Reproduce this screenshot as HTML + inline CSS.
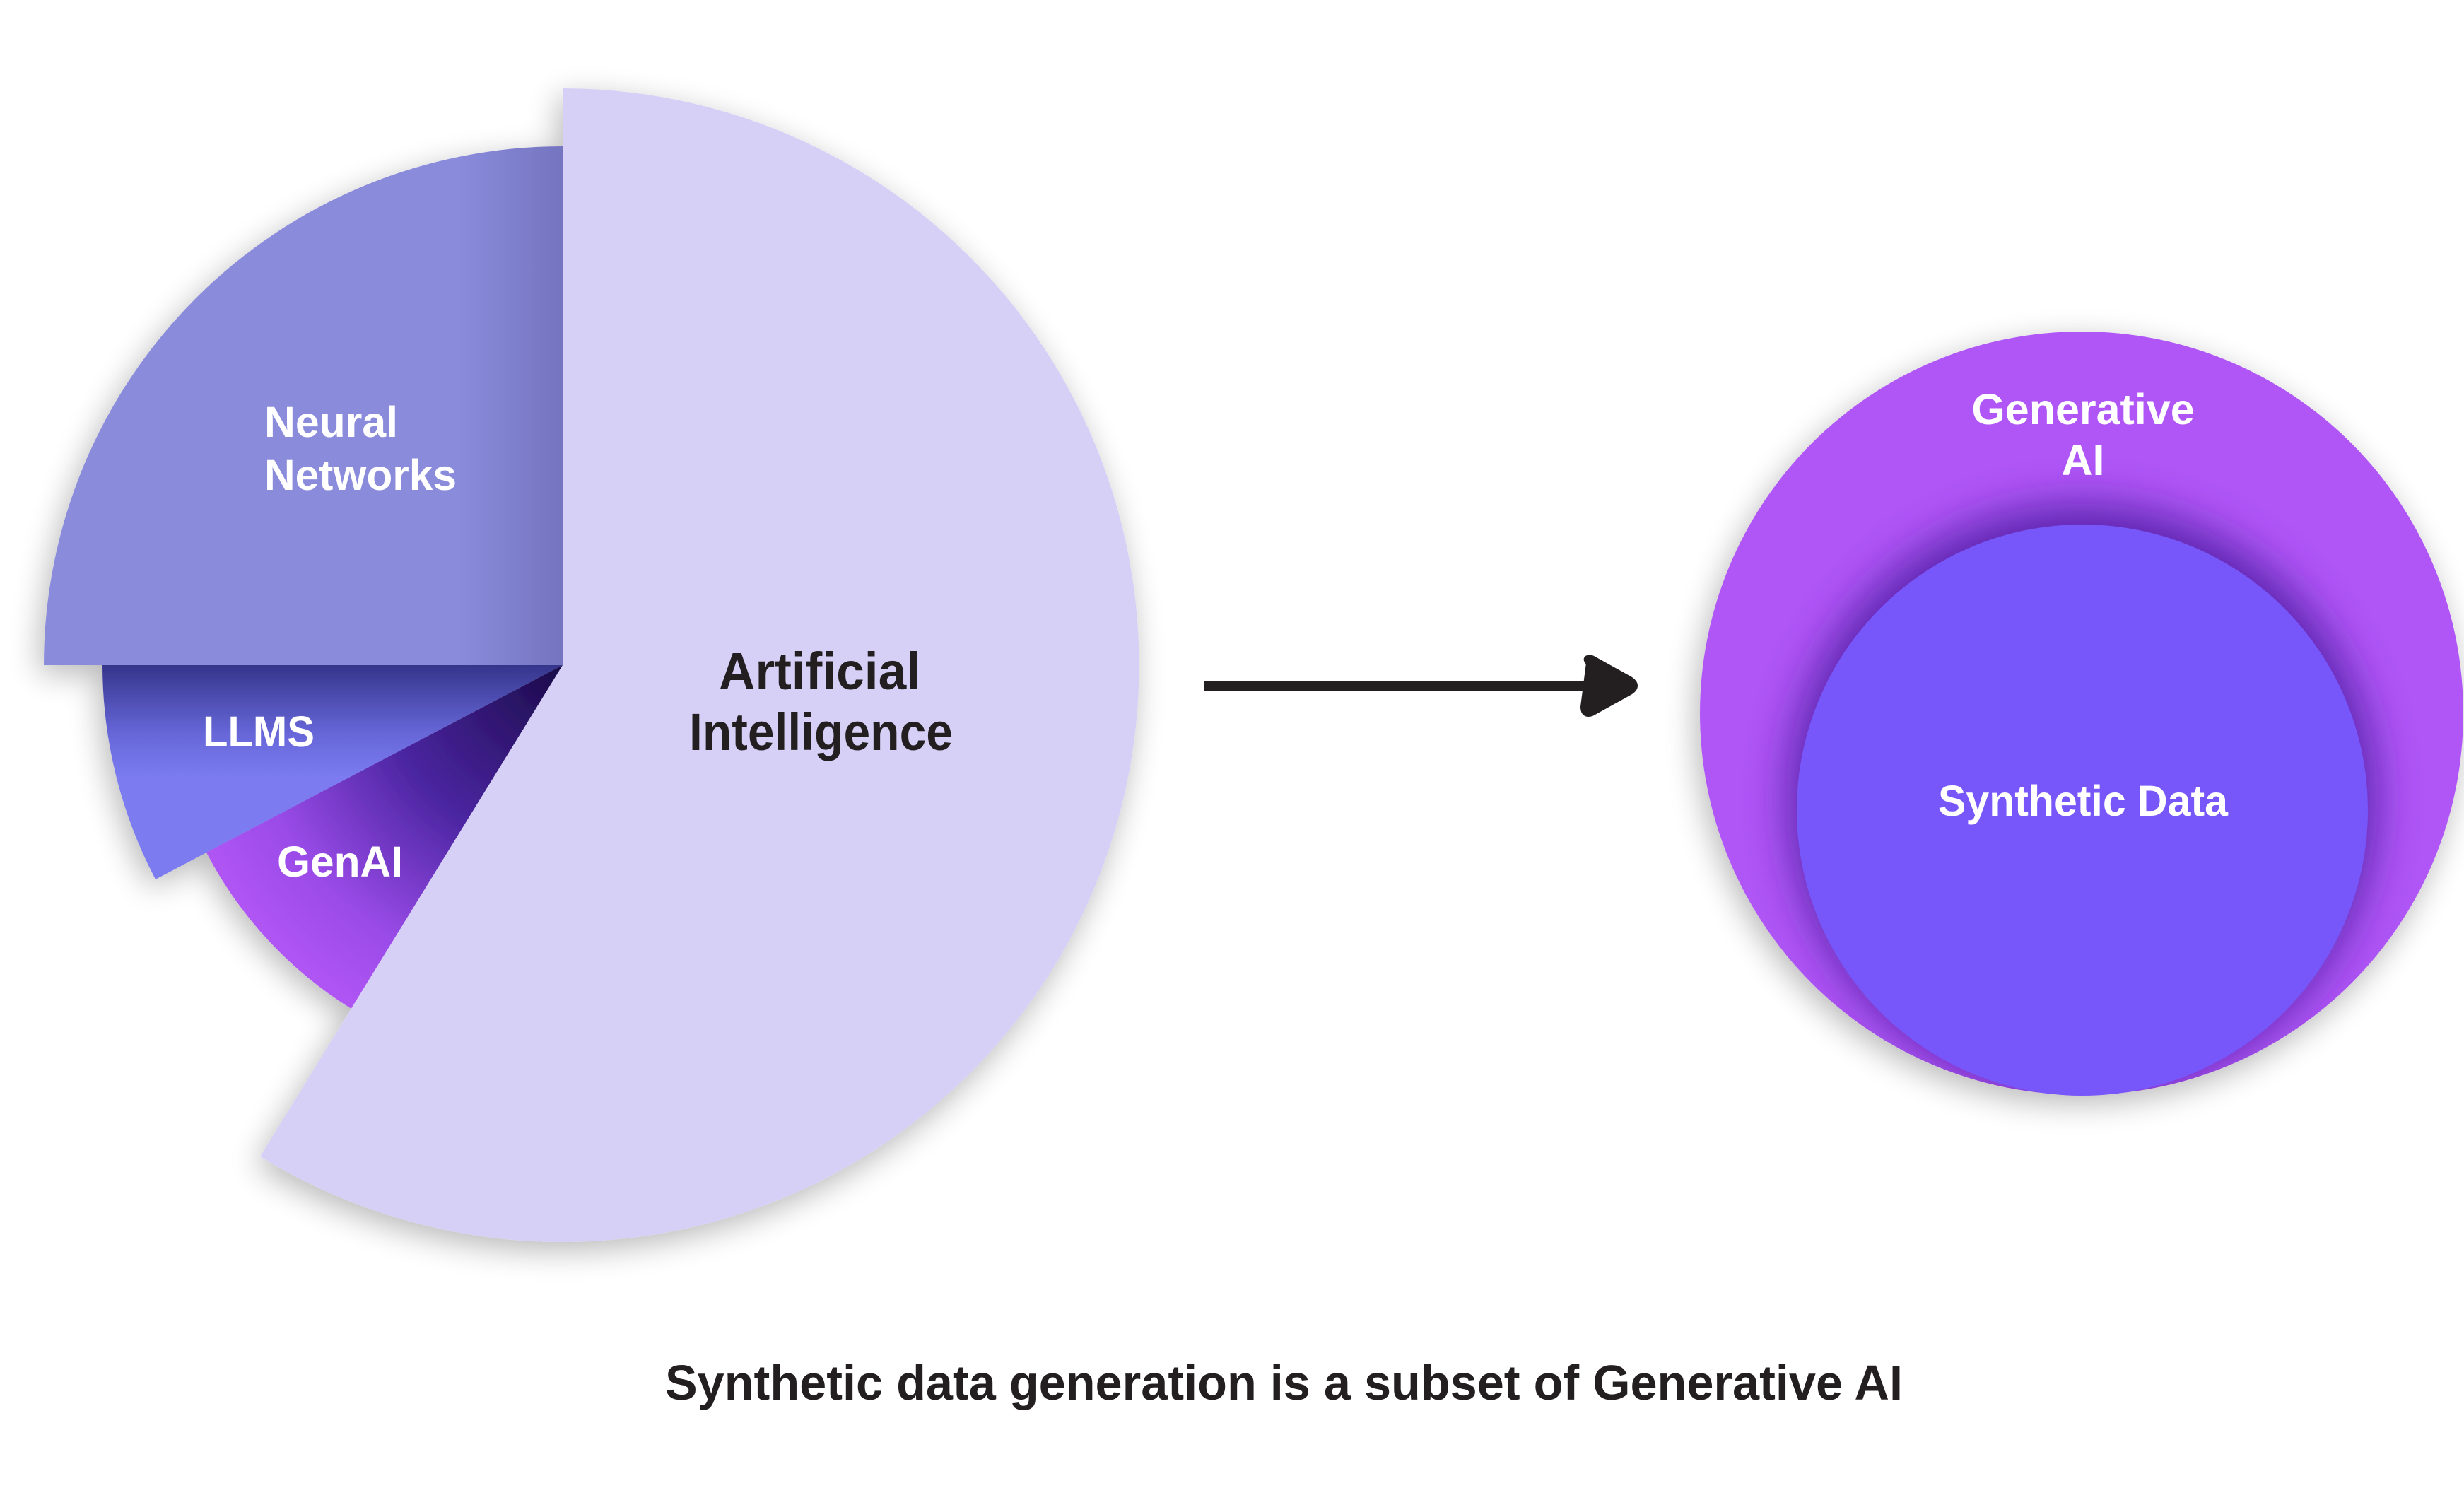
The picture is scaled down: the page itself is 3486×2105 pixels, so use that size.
<!DOCTYPE html>
<html><head><meta charset="utf-8"><style>
html,body{margin:0;padding:0;background:#fff;}
svg{display:block;}
text{font-family:"Liberation Sans",sans-serif;font-weight:bold;}
</style></head><body>
<svg width="3486" height="2105" viewBox="0 0 3486 2105" xmlns="http://www.w3.org/2000/svg">
<defs>
<filter id="sh" x="-20%" y="-20%" width="140%" height="140%">
<feGaussianBlur in="SourceAlpha" stdDeviation="22"/><feOffset dx="-6" dy="12"/>
<feComponentTransfer><feFuncA type="linear" slope="0.28"/></feComponentTransfer>
<feMerge><feMergeNode/><feMergeNode in="SourceGraphic"/></feMerge></filter>
<filter id="blurS" x="-30%" y="-30%" width="160%" height="160%"><feGaussianBlur stdDeviation="30"/></filter>
<linearGradient id="nn" x1="0" y1="0" x2="1" y2="0">
<stop offset="0.8" stop-color="#8a8bdb"/><stop offset="1" stop-color="#7474c0"/></linearGradient>
<linearGradient id="llm" x1="0" y1="941" x2="0" y2="1100" gradientUnits="userSpaceOnUse">
<stop offset="0" stop-color="#35358c"/><stop offset="0.6" stop-color="#6666d8"/><stop offset="1" stop-color="#7b7cf0"/></linearGradient>
<radialGradient id="gen" cx="796" cy="941" r="570" gradientUnits="userSpaceOnUse">
<stop offset="0" stop-color="#1a0a48"/><stop offset="0.45" stop-color="#4a25a0"/><stop offset="0.8" stop-color="#9a4be8"/><stop offset="1" stop-color="#b055f5"/></radialGradient>
<clipPath id="oc"><circle cx="2945" cy="1009" r="540"/></clipPath>
</defs>

<g filter="url(#sh)">
<path d="M796,941 L62,941 A734,734 0 0 1 796,207 Z" fill="url(#nn)"/>
<path d="M796,941 L145,941 A651,651 0 0 0 220,1244 Z" fill="url(#llm)"/>
<path d="M796,941 L292,1206 A570,570 0 0 0 497,1427 Z" fill="url(#gen)"/>
<path d="M796,941 L796,125 A816,816 0 1 1 368,1636 Z" fill="#d6d0f7"/>
</g>

<text x="374" y="618" font-size="61" fill="#fff" textLength="189" lengthAdjust="spacingAndGlyphs">Neural</text>
<text x="374" y="693" font-size="61" fill="#fff" textLength="272" lengthAdjust="spacingAndGlyphs">Networks</text>
<text x="287" y="1056" font-size="61" fill="#fff" textLength="158" lengthAdjust="spacingAndGlyphs">LLMS</text>
<text x="392" y="1240" font-size="61" fill="#fff" textLength="178" lengthAdjust="spacingAndGlyphs">GenAI</text>
<text x="1017" y="975" font-size="74" fill="#231f20" textLength="285" lengthAdjust="spacingAndGlyphs">Artificial</text>
<text x="975" y="1061" font-size="74" fill="#231f20" textLength="373" lengthAdjust="spacingAndGlyphs">Intelligence</text>

<rect x="1704" y="964" width="545" height="13" fill="#231f20"/>
<path d="M2249,938 Q2241,930 2252,932 L2306,962 Q2318,970 2306,978 L2252,1008 Q2241,1012 2241,1000 Z" fill="#231f20" stroke="#231f20" stroke-width="10" stroke-linejoin="round"/>

<circle cx="2945" cy="1009" r="540" fill="#b057f7" filter="url(#sh)"/>
<g clip-path="url(#oc)">
<circle cx="2946" cy="1130" r="418" fill="#4a1e9e" opacity="0.8" filter="url(#blurS)"/>
</g>
<circle cx="2946" cy="1146" r="404" fill="#7756fa"/>
<text x="2947" y="600" font-size="61" fill="#fff" text-anchor="middle">Generative</text>
<text x="2947" y="672" font-size="61" fill="#fff" text-anchor="middle">AI</text>
<text x="2947" y="1154" font-size="61" fill="#fff" text-anchor="middle" textLength="410" lengthAdjust="spacingAndGlyphs">Synthetic Data</text>

<text x="941" y="1980" font-size="70" fill="#231f20" textLength="1751" lengthAdjust="spacingAndGlyphs">Synthetic data generation is a subset of Generative AI</text>
</svg>
</body></html>
